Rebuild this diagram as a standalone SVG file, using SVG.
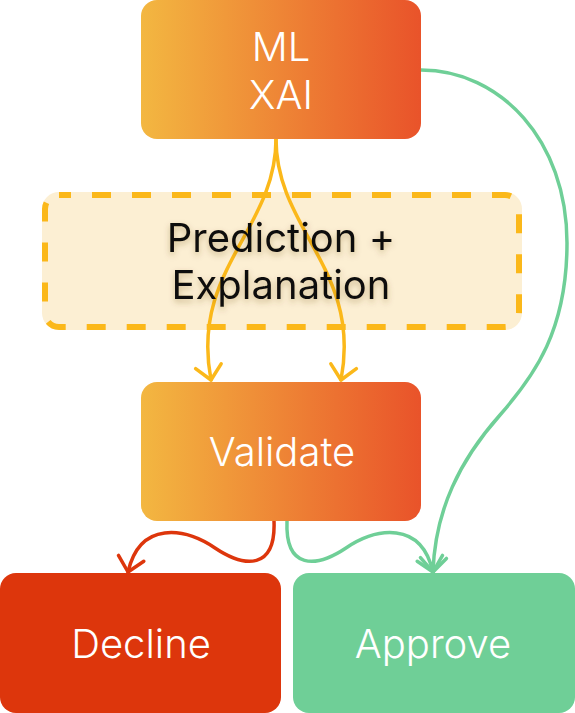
<svg xmlns="http://www.w3.org/2000/svg" width="575" height="713" viewBox="0 0 575 713">
<defs>
<linearGradient id="og" x1="0" y1="0" x2="1" y2="0">
<stop offset="0" stop-color="#F3B741"/>
<stop offset="1" stop-color="#E9532A"/>
</linearGradient>
<filter id="ts" x="-20%" y="-40%" width="140%" height="180%">
<feDropShadow dx="0" dy="3" stdDeviation="3" flood-color="#6b4a00" flood-opacity="0.35"/>
</filter>
<marker id="ay" markerUnits="userSpaceOnUse" viewBox="-20 -16 24 32" markerWidth="24" markerHeight="32" refX="0" refY="0" orient="auto">
<path d="M-14,-13 L0,0 L-14,13" fill="none" stroke="#FBB81A" stroke-width="3.5" stroke-linecap="round" stroke-linejoin="round"/>
</marker>
<marker id="ar" markerUnits="userSpaceOnUse" viewBox="-20 -16 24 32" markerWidth="24" markerHeight="32" refX="0" refY="0" orient="auto">
<path d="M-14,-13 L0,0 L-14,13" fill="none" stroke="#DD360C" stroke-width="3.5" stroke-linecap="round" stroke-linejoin="round"/>
</marker>
<marker id="ag" markerUnits="userSpaceOnUse" viewBox="-20 -16 24 32" markerWidth="24" markerHeight="32" refX="0" refY="0" orient="auto">
<path d="M-14,-13 L0,0 L-14,13" fill="none" stroke="#6FCF97" stroke-width="3.5" stroke-linecap="round" stroke-linejoin="round"/>
</marker>
</defs>
<style>
.lbl{font-family:Inter,"Liberation Sans",sans-serif;text-anchor:middle;font-size:40px;font-weight:300}
.w{fill:#ffffff}
.conn{fill:none;stroke-width:3.5;stroke-linecap:round}
</style>

<g id="explain">
<rect x="42" y="192" width="480" height="138" rx="17" fill="#FCEFD3"/>
<rect x="45" y="195" width="474" height="132" rx="14" fill="none" stroke="#FBB81A" stroke-width="6" stroke-dasharray="19 21" stroke-dashoffset="7"/>
</g>

<g id="connectors">
<path class="conn" d="M276,139 C276,230 190,270 211,380" stroke="#FBB81A" marker-end="url(#ay)"/>
<path class="conn" d="M276,139 C276,230 362,270 341,380" stroke="#FBB81A" marker-end="url(#ay)"/>
<path class="conn" d="M421,70 C500,70 567,140 567,243 C567,330 535,375 500,415 C460,460 435,510 433,572" stroke="#6FCF97" marker-end="url(#ag)"/>
<path class="conn" d="M274,521 C276,570 245,568 215,548 C185,528 140,520 128,572" stroke="#DD360C" marker-end="url(#ar)"/>
<path class="conn" d="M287,521 C285,570 316,568 346,548 C376,528 421,520 433,572" stroke="#6FCF97" marker-end="url(#ag)"/>
</g>

<g id="explain-label">
<text class="lbl" x="281" y="252" fill="#111111" filter="url(#ts)" style="font-weight:400">Prediction +</text>
<text class="lbl" x="281" y="299" fill="#111111" filter="url(#ts)" style="font-weight:400">Explanation</text>
</g>

<g id="mlxai">
<rect x="141" y="0" width="280" height="139" rx="16" fill="url(#og)"/>
<text class="lbl w" x="281" y="61">ML</text>
<text class="lbl w" x="281" y="109">XAI</text>
</g>

<g id="validate">
<rect x="141" y="382" width="280" height="139" rx="16" fill="url(#og)"/>
<text class="lbl w" x="282" y="466">Validate</text>
</g>

<g id="decline">
<rect x="0" y="573" width="281" height="140" rx="16" fill="#DD360C"/>
<text class="lbl w" x="141" y="658">Decline</text>
</g>

<g id="approve">
<rect x="293" y="573" width="282" height="140" rx="16" fill="#6FCF97"/>
<text class="lbl w" x="433" y="658">Approve</text>
</g>
</svg>
